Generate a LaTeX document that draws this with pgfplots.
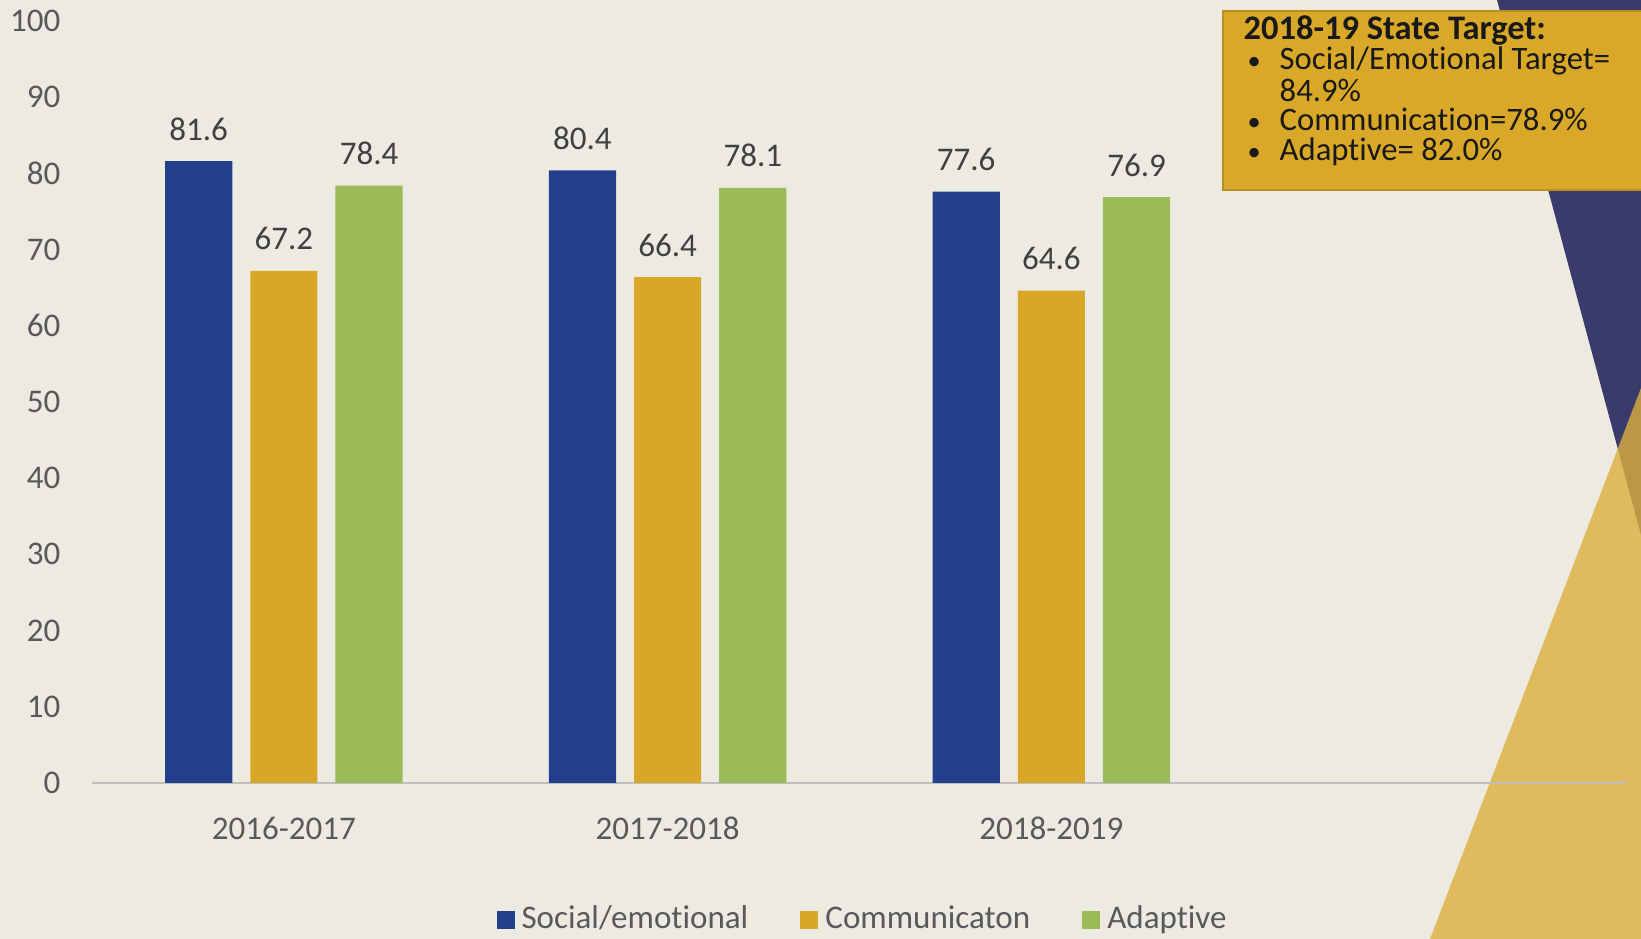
\documentclass[border=0pt]{standalone}
\usepackage{fontspec}
\setmainfont{Carlito}[Ligatures=NoCommon]
\usepackage{pgfplots}
\pgfplotsset{compat=1.18}
\definecolor{bg}{HTML}{EDEBE1}
\definecolor{navy}{HTML}{3B3B6B}
\definecolor{tgold}{RGB}{220,176,61}
\definecolor{sblue}{HTML}{233F8B}
\definecolor{sgold}{HTML}{D9A727}
\definecolor{sgreen}{HTML}{9BBB59}
\definecolor{txt}{HTML}{595959}
\definecolor{dtxt}{HTML}{404040}
\definecolor{boxgold}{HTML}{DAA828}
\begin{document}
\begin{tikzpicture}[x=1cm,y=1cm]
\fill[bg] (0,0) rectangle (16.41,9.39);
\useasboundingbox (0,0) rectangle (16.41,9.39);
\fill[navy] (14.97,9.39) -- (16.41,9.39) -- (16.41,4.04) -- cycle;
\fill[tgold, fill opacity=0.8] (14.30,0) -- (16.41,5.51) -- (16.41,0) -- cycle;
\begin{axis}[
  at={(0.92cm,1.56cm)}, anchor=south west,
  scale only axis, width=15.35cm, height=7.62cm,
  ymin=0, ymax=100, xmin=-0.5, xmax=3.5,
  axis x line*=bottom, axis y line*=left,
  axis line style={-},
  x axis line style={draw=black!25, line width=0.8pt},
  y axis line style={draw=none},
  major tick length=0pt,
  xtick={0,1,2}, xticklabels={2016-2017,2017-2018,2018-2019},
  ytick={0,10,...,100},
  /pgf/number format/assume math mode=true,
  yticklabel style={font=\fontsize{9.4}{11}\selectfont, color=txt, anchor=east, inner sep=0pt, xshift=-0.31cm},
  xticklabel style={font=\fontsize{9.4}{11}\selectfont, color=txt, anchor=center, inner sep=0pt, yshift=-0.45cm},
  ybar, bar width=0.175,
  legend image code/.code={\fill[#1] (0cm,-0.09cm) rectangle (0.18cm,0.09cm);},
  legend style={at={(0.5036,-0.18)}, anchor=center, draw=none, fill=none,
    legend columns=3, font=\fontsize{9.4}{11}\selectfont, text=txt,
    /tikz/every even column/.append style={column sep=0.45cm},
    inner sep=0pt},
  legend cell align=left,
  nodes near coords,
  nodes near coords style={font=\fontsize{9.4}{11}\selectfont, color=dtxt, inner sep=0pt, yshift=0.2cm,
    /pgf/number format/.cd, fixed, precision=1, fixed zerofill, assume math mode=true},
]
\addplot[fill=sblue, draw=none, bar shift=-0.222] coordinates {(0,81.6) (1,80.4) (2,77.6)};
\addplot[fill=sgold, draw=none, bar shift=0] coordinates {(0,67.2) (1,66.4) (2,64.6)};
\addplot[fill=sgreen, draw=none, bar shift=0.222] coordinates {(0,78.4) (1,78.1) (2,76.9)};
\legend{Social/emotional, Communicaton, Adaptive}
\end{axis}
\draw[boxgold!85!black, line width=0.4pt, fill=boxgold] (12.23,9.28) rectangle (16.6,7.49);
\begin{scope}[every node/.style={anchor=base west, inner sep=0pt, text=black!90, font=\fontsize{9.3}{10}\selectfont}]
\node[font=\bfseries\fontsize{9.8}{10}\selectfont] at (12.43,8.99) {2018-19 State Target:};
\node[font=\fontsize{7.5}{8}\selectfont] at (12.47,8.69) {\textbullet};
\node at (12.79,8.69) {Social/Emotional Target=};
\node at (12.79,8.37) {84.9\%};
\node[font=\fontsize{7.5}{8}\selectfont] at (12.47,8.08) {\textbullet};
\node at (12.79,8.08) {Communication=78.9\%};
\node[font=\fontsize{7.5}{8}\selectfont] at (12.47,7.78) {\textbullet};
\node at (12.79,7.78) {Adaptive= 82.0\%};
\end{scope}
\end{tikzpicture}
\end{document}
